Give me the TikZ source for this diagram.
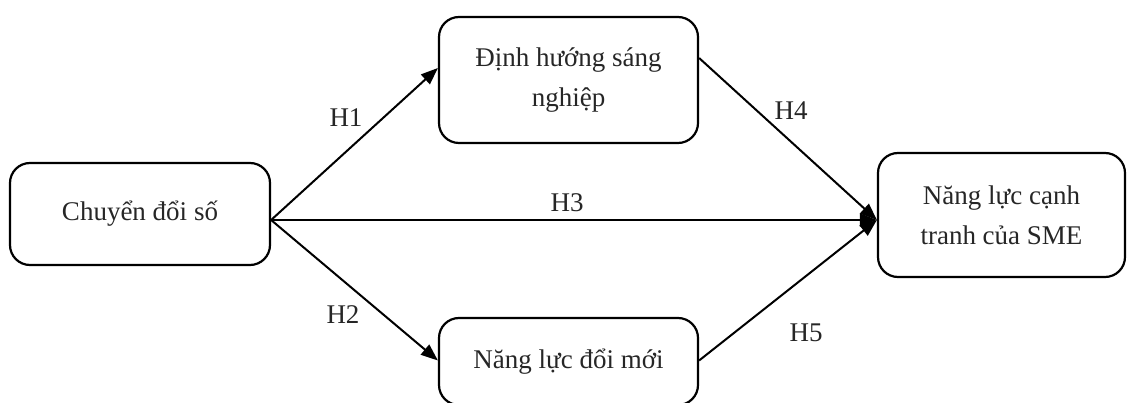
\documentclass[tikz,border=0pt]{standalone}
\usepackage{fontspec}
\setmainfont{Liberation Serif}
\usetikzlibrary{arrows.meta}

\tikzset{
  khoi/.style={draw=black, line width=2.2pt, rounded corners=20pt, align=center,
    text=black!85, font=\fontsize{27}{40}\selectfont, inner sep=0pt},
  muiten/.style={draw=black, line width=2pt, -{Triangle[length=17pt,width=13pt]}},
  nhan/.style={text=black!85, font=\fontsize{27}{32}\selectfont}
}

\begin{document}
\begin{tikzpicture}[x=1pt, y=-1pt]
            \clip (0,0) rectangle (1127,403);
            \useasboundingbox (0,0) rectangle (1127,403);

            \node[khoi, minimum width=260pt, minimum height=102pt] (cds) at (140,214) {Chuyển đổi số};
            \node[khoi, minimum width=259pt, minimum height=126pt] (dhsn) at (568.5,80) {Định hướng sáng\\nghiệp};
            \node[khoi, minimum width=259pt, minimum height=87pt] (nldm) at (568.5,361.5) {Năng lực đổi mới};
            \node[khoi, minimum width=247pt, minimum height=124pt] (nlct) at (1001.5,215) {Năng lực cạnh\\tranh của SME};

            \coordinate (goc) at ([yshift=-6pt]cds.east);
            \coordinate (dich) at ([yshift=-5pt]nlct.west);

            \draw[muiten] (goc) -- ([yshift=12pt]dhsn.west);
            \draw[muiten] (goc) -- ([yshift=1pt]nldm.west);
            \draw[muiten] (goc) -- (dich);
            \draw[muiten] ([yshift=22pt]dhsn.east) -- (dich);
            \draw[muiten] ([yshift=1pt]nldm.east) -- (dich);

            \node[nhan] (h1) at (346,118) {H1};
            \node[nhan] (h2) at (343,315) {H2};
            \node[nhan] (h3) at (567,203) {H3};
            \node[nhan] (h4) at (791,111) {H4};
            \node[nhan] (h5) at (806,333) {H5};
        \end{tikzpicture}
\end{document}
